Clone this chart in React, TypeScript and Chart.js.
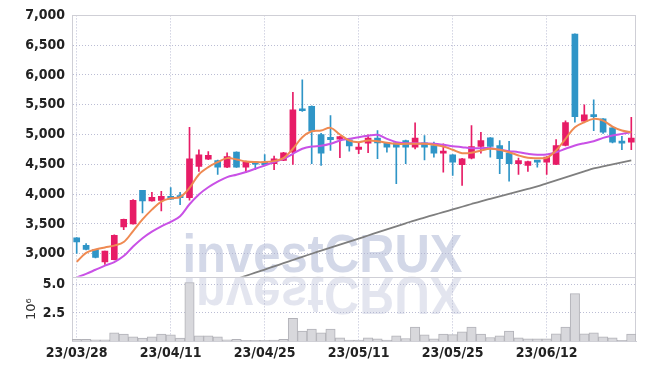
import React, { useEffect, useRef } from 'react';
import { Chart, registerables } from 'chart.js';

Chart.register(...registerables);

const dates = [
  '23/03/28', '23/03/29', '23/03/30', '23/03/31',
  '23/04/03', '23/04/04', '23/04/05', '23/04/06', '23/04/07', '23/04/10', '23/04/11', '23/04/12', '23/04/13', '23/04/14',
  '23/04/17', '23/04/18', '23/04/19', '23/04/20', '23/04/21', '23/04/24', '23/04/25', '23/04/26', '23/04/27', '23/04/28',
  '23/05/02', '23/05/03', '23/05/04', '23/05/08', '23/05/09', '23/05/10', '23/05/11', '23/05/12',
  '23/05/15', '23/05/16', '23/05/17', '23/05/18', '23/05/19', '23/05/22', '23/05/23', '23/05/24', '23/05/25', '23/05/26',
  '23/05/30', '23/05/31', '23/06/01', '23/06/02', '23/06/05', '23/06/07', '23/06/08', '23/06/09', '23/06/12',
  '23/06/13', '23/06/14', '23/06/15', '23/06/16', '23/06/19', '23/06/20', '23/06/21', '23/06/22', '23/06/23',
];

const opens = [
  3265, 3142, 3070, 2863, 2900, 3449, 3500, 4063, 3884, 3895,
  3962, 3974, 3941, 4464, 4587, 4565, 4453, 4704, 4453, 4526,
  4537, 4509, 4565, 4704, 5430, 5474, 5000, 4955, 4921, 4911,
  4749, 4855, 4939, 4861, 4861, 4900, 4788, 4861, 4816, 4687,
  4660, 4493, 4604, 4799, 4944, 4816, 4687, 4510, 4481, 4560,
  4537, 4498, 4816, 6686, 5223, 5335, 5263, 5112, 4883, 4872,
];
const highs = [
  3270, 3171, 3075, 3045, 3315, 3580, 3907, 4065, 4030, 4046,
  4108, 4030, 5122, 4744, 4715, 4570, 4693, 4710, 4555, 4550,
  4665, 4637, 4700, 5708, 5920, 5480, 5020, 5318, 4970, 4920,
  4855, 4995, 5067, 4870, 4870, 4905, 5196, 4983, 4872, 4844,
  4665, 4600, 5151, 5039, 4950, 4900, 4888, 4605, 4555, 4565,
  4630, 4916, 5230, 6690, 5497, 5581, 5270, 5120, 4972, 5290,
];
const lows = [
  3003, 3065, 2930, 2820, 2895, 3405, 3495, 3683, 3880, 3717,
  3912, 3823, 3900, 4381, 4580, 4331, 4445, 4448, 4360, 4410,
  4480, 4409, 4560, 4498, 5390, 4510, 4481, 4732, 4610, 4720,
  4677, 4694, 4593, 4704, 4175, 4510, 4760, 4576, 4620, 4370,
  4314, 4146, 4590, 4687, 4620, 4342, 4219, 4331, 4381, 4453,
  4331, 4495, 4810, 5206, 5210, 5067, 5020, 4860, 4744, 4744,
];
const closes = [
  3198, 3070, 2936, 3042, 3310, 3577, 3895, 3884, 3945, 3962,
  3917, 3941, 4593, 4660, 4649, 4453, 4632, 4453, 4548, 4503,
  4493, 4593, 4694, 5413, 5400, 5055, 4687, 4916, 4966, 4811,
  4788, 4939, 4861, 4788, 4788, 4788, 4939, 4788, 4687, 4715,
  4537, 4593, 4799, 4900, 4799, 4593, 4510, 4565, 4548, 4537,
  4620, 4816, 5201, 5301, 5330, 5301, 5039, 4872, 4855, 4939,
];

const ma5 = [
  2863, 3013, 3070, 3104, 3135, 3195, 3380, 3575, 3740, 3875,
  3930, 3951, 4105, 4330, 4453, 4537, 4604, 4582, 4548, 4537,
  4537, 4554, 4604, 4761, 4955, 5055, 5067, 5112, 5000, 4900,
  4872, 4900, 4888, 4861, 4844, 4844, 4844, 4844, 4827, 4799,
  4744, 4687, 4694, 4732, 4761, 4744, 4704, 4649, 4610, 4604,
  4610, 4732, 4928, 5122, 5206, 5263, 5234, 5134, 5067, 5039,
];
const ma20 = [
  2600, 2660, 2730, 2800, 2860, 2960, 3120, 3260, 3370, 3460,
  3535, 3630, 3830, 3995, 4115, 4210, 4286, 4326, 4370, 4426,
  4481, 4537, 4593, 4677, 4761, 4799, 4811, 4844, 4900, 4928,
  4955, 4978, 4995, 4928, 4872, 4855, 4855, 4850, 4844, 4827,
  4805, 4788, 4771, 4771, 4771, 4744, 4721, 4704, 4677, 4660,
  4665, 4704, 4761, 4816, 4855, 4888, 4944, 4983, 5011, 5039,
];
const ma60 = [
  null, null, null, null, null, null, null, null, null, null,
  null, null, null, null, null, null, null, 2576, 2628, 2681,
  2734, 2787, 2840, 2894, 2948, 2999, 3050, 3101, 3152, 3203,
  3254, 3305, 3357, 3408, 3459, 3510, 3561, 3606, 3652, 3697,
  3743, 3788, 3834, 3879, 3921, 3963, 4005, 4046, 4088, 4130,
  4180, 4230, 4280, 4331, 4381, 4431, 4465, 4498, 4532, 4565,
];

// volume in units of 10^6
const volumes = [
  0.2, 0.2, 0.15, 0.15, 0.75, 0.66, 0.4, 0.3, 0.4, 0.66,
  0.58, 0.31, 5.17, 0.49, 0.49, 0.4, 0.15, 0.2, 0.1, 0.1,
  0.1, 0.12, 0.2, 2.04, 0.92, 1.09, 0.75, 1.09, 0.32, 0.12,
  0.12, 0.32, 0.23, 0.12, 0.49, 0.26, 1.26, 0.58, 0.23, 0.66,
  0.6, 0.84, 1.26, 0.66, 0.35, 0.49, 0.92, 0.32, 0.23, 0.23,
  0.23, 0.67, 1.26, 4.2, 0.68, 0.76, 0.4, 0.33, 0.11, 0.66,
];

const priceMin = 2612;
const priceMax = 7000;
const priceTicks = [3000, 3500, 4000, 4500, 5000, 5500, 6000, 6500, 7000];
const volMax = 5.67;
const volTicks = [2.5, 5.0];

const UP = '#e71c66';
const DOWN = '#2f95c7';
const GRID = 'rgba(175,178,205,0.85)';
const FRAME = '#cfcfd6';
const TICK_FONT = { family: '"Liberation Sans Narrow", "DejaVu Sans Condensed", sans-serif', size: 14, weight: 'bold' };
const TICK_COLOR = '#222';

export default function App() {
  const ref = useRef<HTMLCanvasElement>(null);

  useEffect(() => {
    if (!ref.current) return;
    const colors = opens.map((o, i) => (closes[i] >= o ? UP : DOWN));

    const watermark = {
      id: 'watermark',
      beforeDraw(chart: any) {
        const { ctx } = chart;
        const yp = chart.scales.y;
        const text = 'investCRUX';
        ctx.save();
        ctx.font = 'bold 54px "Liberation Sans", Arial, sans-serif';
        const w = ctx.measureText(text).width;
        const targetW = 280;
        const sx = targetW / w;
        const cx = chart.width / 2;
        const base = yp.bottom - 5;
        ctx.textBaseline = 'alphabetic';
        ctx.save();
        ctx.translate(cx - targetW / 2, base);
        ctx.scale(sx, 1);
        ctx.fillStyle = '#d3d8e8';
        ctx.fillText(text, 0, 0);
        ctx.restore();
        ctx.save();
        ctx.translate(cx - targetW / 2, yp.bottom + 0.5);
        ctx.scale(sx, -1);
        ctx.fillStyle = 'rgba(224,226,237,0.9)';
        ctx.fillText(text, 0, 0);
        ctx.restore();
        ctx.restore();
      },
    };

    const clipPanels = {
      id: 'clipPanels',
      beforeDatasetDraw(chart: any, args: any) {
        const ds = chart.data.datasets[args.index];
        const s = chart.scales[ds.yAxisID || 'y'];
        const a = chart.chartArea;
        chart.ctx.save();
        chart.ctx.beginPath();
        chart.ctx.rect(a.left, s.top, a.right - a.left, s.bottom - s.top);
        chart.ctx.clip();
      },
      afterDatasetDraw(chart: any) {
        chart.ctx.restore();
      },
    };

    const frame = {
      id: 'frame',
      beforeDatasetsDraw(chart: any) {
        const { ctx, chartArea: a } = chart;
        const yp = chart.scales.y;
        ctx.save();
        ctx.strokeStyle = FRAME;
        ctx.lineWidth = 1;
        ctx.beginPath();
        ctx.moveTo(a.left, Math.round(a.top) + 0.5);
        ctx.lineTo(a.right, Math.round(a.top) + 0.5);
        ctx.moveTo(Math.round(a.right) - 0.5, a.top);
        ctx.lineTo(Math.round(a.right) - 0.5, a.bottom);
        ctx.moveTo(a.left, Math.round(yp.bottom) + 0.5);
        ctx.lineTo(a.right, Math.round(yp.bottom) + 0.5);
        ctx.stroke();
        ctx.restore();
      },
    };

    const chart = new Chart(ref.current, {
      type: 'bar',
      data: {
        labels: dates,
        datasets: [
          {
            type: 'line',
            label: 'MA5',
            data: ma5,
            borderColor: '#ef8a52',
            borderWidth: 2,
            pointRadius: 0,
            tension: 0.35,
            yAxisID: 'y',
            order: 1,
          },
          {
            type: 'line',
            label: 'MA20',
            data: ma20,
            borderColor: '#c951e6',
            borderWidth: 2,
            pointRadius: 0,
            tension: 0.35,
            yAxisID: 'y',
            order: 2,
          },
          {
            type: 'line',
            label: 'MA60',
            data: ma60,
            borderColor: '#7f7f7f',
            borderWidth: 1.8,
            pointRadius: 0,
            tension: 0.35,
            yAxisID: 'y',
            order: 3,
          },
          {
            type: 'bar',
            label: 'body',
            data: opens.map((o, i) => [o, closes[i]]),
            backgroundColor: colors,
            barThickness: 6,
            minBarLength: 2,
            grouped: false,
            yAxisID: 'y',
            order: 5,
          },
          {
            type: 'bar',
            label: 'wick',
            data: lows.map((l, i) => [l, highs[i]]),
            backgroundColor: colors,
            barThickness: 1,
            grouped: false,
            yAxisID: 'y',
            order: 6,
          },
          {
            type: 'bar',
            label: 'volume',
            data: volumes,
            backgroundColor: '#d8d8dc',
            borderColor: '#b2b2b8',
            borderWidth: 1,
            barPercentage: 1,
            categoryPercentage: 1,
            grouped: false,
            yAxisID: 'yv',
            order: 10,
          },
        ] as any,
      },
      options: {
        responsive: false,
        animation: false,
        events: [],
        layout: { padding: { left: 20, right: 9, top: 14, bottom: 0 } },
        plugins: { legend: { display: false }, tooltip: { enabled: false } },
        scales: {
          x: {
            type: 'category',
            offset: true,
            grid: {
              offset: false,
              drawTicks: false,
              color: (c: any) => (c.index % 10 === 0 ? GRID : 'rgba(0,0,0,0)'),
            },
            border: { color: FRAME, dash: [1, 2] },
            ticks: {
              autoSkip: false,
              maxRotation: 0,
              padding: 3,
              font: TICK_FONT,
              color: TICK_COLOR,
              callback: (v: any, i: number) => (i % 10 === 0 ? dates[i] : ''),
            },
            afterFit: (s: any) => {
              s.height = 28.5;
            },
          },
          yv: {
            type: 'linear',
            position: 'left',
            stack: 'panels',
            stackWeight: 1,
            min: 0,
            max: volMax,
            grid: { drawTicks: false, color: GRID },
            border: { color: FRAME, dash: [1, 2] },
            ticks: {
              autoSkip: false,
              padding: 7,
              font: TICK_FONT,
              color: TICK_COLOR,
              callback: (v: any) => Number(v).toFixed(1),
            },
            afterBuildTicks: (s: any) => {
              s.ticks = volTicks.map((v) => ({ value: v }));
            },
            title: {
              display: true,
              text: '10⁶',
              color: '#333',
              font: { family: '"DejaVu Sans", sans-serif', size: 13 },
              padding: { top: 4, bottom: 0 },
            },
            afterFit: (s: any) => {
              s.width = 52;
            },
          },
          y: {
            type: 'linear',
            position: 'left',
            stack: 'panels',
            stackWeight: 4.04,
            min: priceMin,
            max: priceMax,
            grid: { drawTicks: false, color: GRID },
            border: { color: FRAME, dash: [1, 2] },
            ticks: {
              autoSkip: false,
              padding: 7,
              font: TICK_FONT,
              color: TICK_COLOR,
              callback: (v: any) => Number(v).toLocaleString('en-US'),
            },
            afterBuildTicks: (s: any) => {
              s.ticks = priceTicks.map((v) => ({ value: v }));
            },
            afterFit: (s: any) => {
              s.width = 52;
            },
          },
        } as any,
      },
      plugins: [watermark, clipPanels, frame],
    });

    return () => chart.destroy();
  }, []);

  return (
    <div style={{ position: 'fixed', left: 0, top: 0, width: 645, height: 370, background: '#fff' }}>
      <canvas ref={ref} width={645} height={370} style={{ display: 'block' }} />
    </div>
  );
}
